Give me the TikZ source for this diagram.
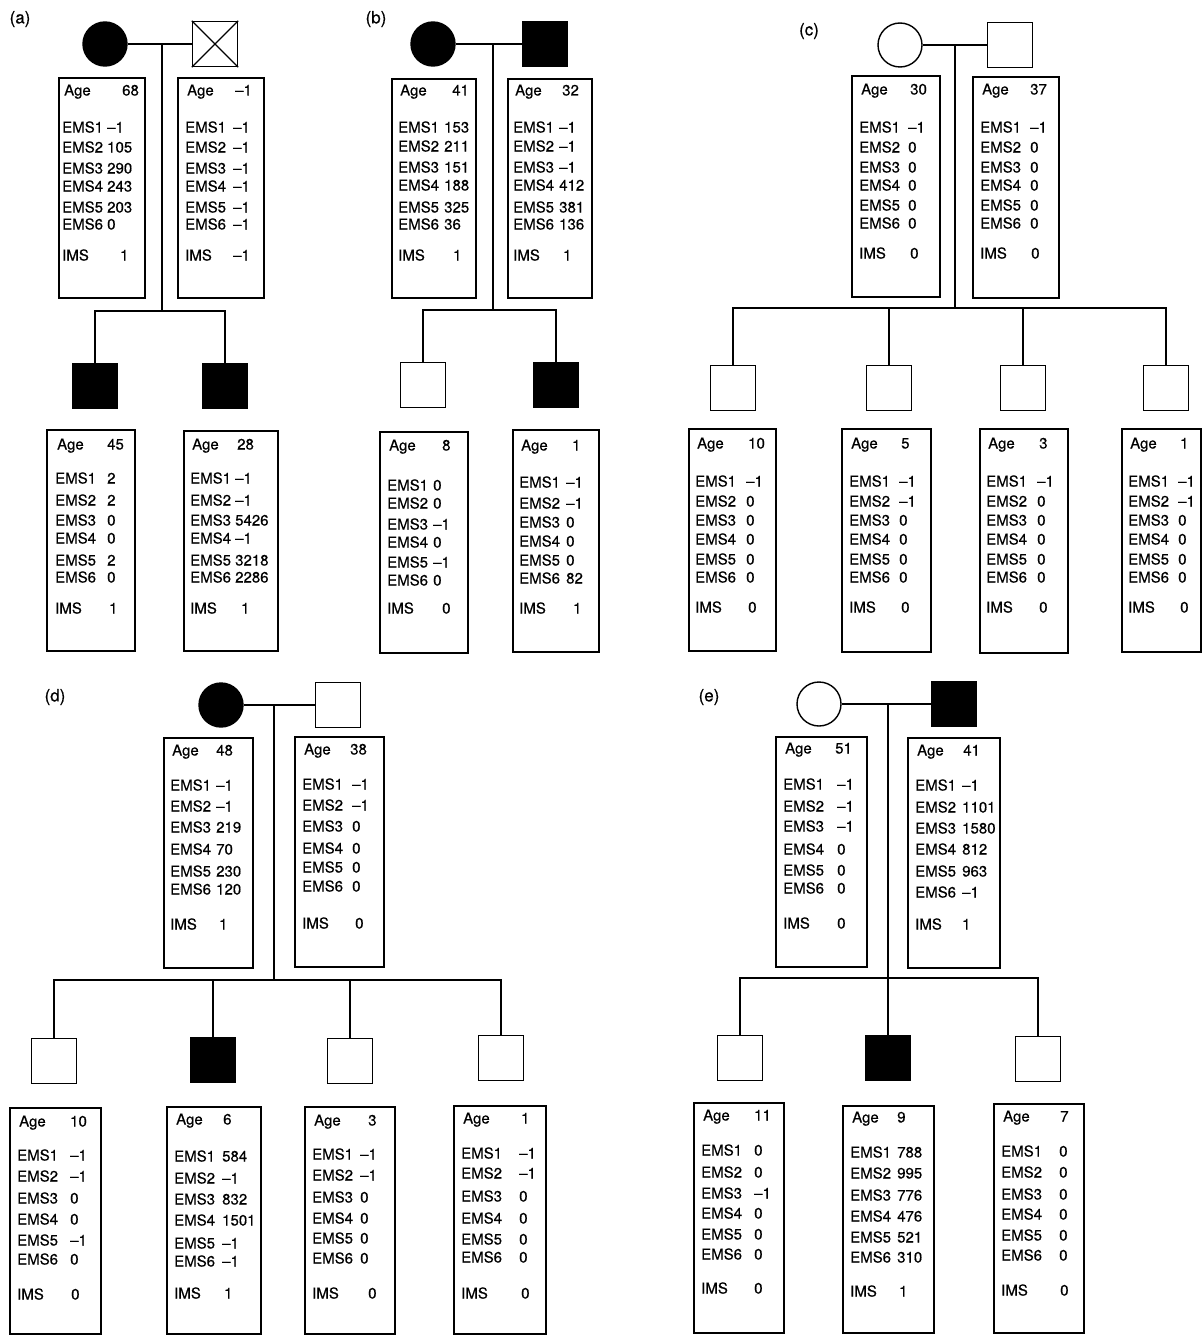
\documentclass[tikz,border=0pt]{standalone}
\usepackage{fontspec}
\setmainfont{TeX Gyre Heros}
\newfontfamily\datafont{TeX Gyre Heros}[FakeBold=0.5]
\tikzset{
  fem/.style={circle, draw, line width=1.4pt, minimum size=44pt, inner sep=0pt},
  mal/.style={rectangle, draw, line width=1.4pt, minimum size=45pt, inner sep=0pt},
  aff/.style={fill=black},
  databox/.style={rectangle, draw, line width=1.3pt, inner sep=0pt},
  txt/.style={anchor=base west, yshift=-5.5pt, inner sep=0pt, font=\datafont\fontsize{15}{17}\selectfont},
  lbl/.style={inner sep=0pt, font=\datafont\fontsize{17}{20}\selectfont},
  link/.style={line width=1.2pt},
}
\newcommand\dbox[5]{%
  \pgfmathsetmacro\dbcx{(#2+#4)/2}\pgfmathsetmacro\dbcy{(#3+#5)/2}%
  \pgfmathsetmacro\dbw{#4-#2}\pgfmathsetmacro\dbh{#5-#3}%
  \node[databox, minimum width=\dbw pt, minimum height=\dbh pt] (#1) at (\dbcx,\dbcy) {};}
\newcommand\info[7]{% name, lx, agey, agevx, age, vx, list y/val
  \node[txt] (#1-age) at (#2+2,#3) {Age};
  \node[txt] (#1-agev) at (#4,#3) {#5};
  \foreach \yy/\vv [count=\i] in {#7} {
    \node[txt] (#1-e\i) at (#2,\yy) {EMS\i};
    \node[txt] (#1-v\i) at (#6,\yy) {\vv};
  }}
\newcommand\imsrow[5]{% name, lx, y, vx, val
  \node[txt] (#1-ims) at (#2,#3) {IMS};
  \node[txt] (#1-imsv) at (#4,#3) {#5};}
\begin{document}
\begin{tikzpicture}[x=1pt,y=-1pt]
\useasboundingbox[fill=white] (0,0) rectangle (1202,1335);

% ---------------- (a)
\node[lbl] (a-lab) at (20,19) {(a)};
\node[fem, aff] (a-mo) at (105,44) {};
\node[mal] (a-fa) at (215,44) {};
\draw[link] (a-fa.north west) -- (a-fa.south east) (a-fa.north east) -- (a-fa.south west);
\coordinate (a-m) at (162,44);
\coordinate (a-s) at (162,311);
\draw[link] (a-mo) -- (a-fa);
\draw[link] (a-m) -- (a-s);
\node[mal, aff] (a-c1) at (95,386) {};
\node[mal, aff] (a-c2) at (225,386) {};
\draw[link] (a-c1.north) |- (a-s) -| (a-c2.north);

\dbox{A1}{59}{78}{145}{298}
\info{A1}{62}{90}{122}{68}{107}{127/–1,147/105,168/290,186/243,207/203,224/0}
\imsrow{A1}{62}{255}{120}{1}
\dbox{A2}{178}{78}{264}{298}
\info{A2}{185}{90}{235}{–1}{233}{127/–1,147/–1,168/–1,186/–1,207/–1,224/–1}
\imsrow{A2}{185}{255}{233}{–1}
\dbox{A3}{47}{430}{135}{651}
\info{A3}{55}{444}{107}{45}{107}{478/2,500/2,520/0,538/0,560/2,577/0}
\imsrow{A3}{55}{608}{109}{1}
\dbox{A4}{184}{431}{278}{651}
\info{A4}{190}{444}{237}{28}{235}{478/–1,500/–1,520/5426,538/–1,560/3218,577/2286}
\imsrow{A4}{190}{608}{241}{1}

% ---------------- (b)
\node[lbl] (b-lab) at (376,19) {(b)};
\node[fem, aff] (b-mo) at (433,44) {};
\node[mal, aff] (b-fa) at (545,44) {};
\coordinate (b-m) at (493,44);
\coordinate (b-s) at (493,310);
\draw[link] (b-mo) -- (b-fa);
\draw[link] (b-m) -- (b-s);
\node[mal] (b-c1) at (423,385) {};
\node[mal, aff] (b-c2) at (556,385) {};
\draw[link] (b-c1.north) |- (b-s) -| (b-c2.north);

\dbox{B1}{392}{79}{476}{298}
\info{B1}{398}{90}{452}{41}{444}{127/153,146/211,167/151,185/188,207/325,224/36}
\imsrow{B1}{398}{255}{453}{1}
\dbox{B2}{508}{79}{592}{298}
\info{B2}{513}{90}{562}{32}{559}{127/–1,146/–1,167/–1,185/412,207/381,224/136}
\imsrow{B2}{513}{255}{563}{1}
\dbox{B3}{380}{432}{468}{653}
\info{B3}{387}{445}{442}{8}{433}{485/0,503/0,524/–1,542/0,562/–1,580/0}
\imsrow{B3}{387}{608}{442}{0}
\dbox{B4}{513}{430}{599}{652}
\info{B4}{519}{445}{572}{1}{566}{482/–1,503/–1,522/0,541/0,560/0,578/82}
\imsrow{B4}{519}{608}{573}{1}

% ---------------- (c)
\node[lbl] (c-lab) at (809,31) {(c)};
\node[fem] (c-mo) at (900,45) {};
\node[mal] (c-fa) at (1010,45) {};
\coordinate (c-m) at (955,45);
\coordinate (c-s) at (955,308);
\draw[link] (c-mo) -- (c-fa);
\draw[link] (c-m) -- (c-s);
\node[mal] (c-c1) at (733,388) {};
\node[mal] (c-c2) at (889,388) {};
\node[mal] (c-c3) at (1023,388) {};
\node[mal] (c-c4) at (1166,388) {};
\draw[link] (c-c1.north) |- (c-s) -| (c-c4.north);
\draw[link] (c-c2.north) -- (c-c2.north |- c-s);
\draw[link] (c-c3.north) -- (c-c3.north |- c-s);

\dbox{C1}{852}{76}{940}{297}
\info{C1}{859}{89}{910}{30}{908}{127/–1,147/0,167/0,185/0,205/0,223/0}
\imsrow{C1}{859}{253}{910}{0}
\dbox{C2}{973}{77}{1059}{298}
\info{C2}{980}{89}{1030}{37}{1030}{127/–1,147/0,167/0,185/0,205/0,223/0}
\imsrow{C2}{980}{253}{1031}{0}
\dbox{C3}{689}{429}{776}{651}
\info{C3}{695}{443}{748}{10}{746}{481/–1,501/0,520/0,539/0,559/0,577/0}
\imsrow{C3}{695}{607}{748}{0}
\dbox{C4}{842}{429}{931}{652}
\info{C4}{849}{443}{901}{5}{899}{481/–1,501/–1,520/0,539/0,559/0,577/0}
\imsrow{C4}{849}{607}{901}{0}
\dbox{C5}{980}{429}{1068}{653}
\info{C5}{986}{443}{1039}{3}{1037}{481/–1,501/0,520/0,539/0,559/0,577/0}
\imsrow{C5}{986}{607}{1039}{0}
\dbox{C6}{1122}{429}{1201}{652}
\info{C6}{1128}{443}{1180}{1}{1178}{481/–1,501/–1,520/0,539/0,559/0,577/0}
\imsrow{C6}{1128}{607}{1180}{0}

% ---------------- (d)
\node[lbl] (d-lab) at (55,697) {(d)};
\node[fem, aff] (d-mo) at (221,705) {};
\node[mal] (d-fa) at (338,705) {};
\coordinate (d-m) at (274,705);
\coordinate (d-s) at (274,980);
\draw[link] (d-mo) -- (d-fa);
\draw[link] (d-m) -- (d-s);
\node[mal] (d-c1) at (54,1061) {};
\node[mal, aff] (d-c2) at (213,1060) {};
\node[mal] (d-c3) at (350,1061) {};
\node[mal] (d-c4) at (501,1058) {};
\draw[link] (d-c1.north) |- (d-s) -| (d-c4.north);
\draw[link] (d-c2.north) -- (d-c2.north |- d-s);
\draw[link] (d-c3.north) -- (d-c3.north |- d-s);

\dbox{D1}{164}{738}{253}{968}
\info{D1}{170}{750}{216}{48}{216}{785/–1,806/–1,827/219,849/70,871/230,889/120}
\imsrow{D1}{170}{924}{219}{1}
\dbox{D2}{295}{737}{384}{967}
\info{D2}{302}{749}{350}{38}{352}{784/–1,805/–1,826/0,848/0,867/0,886/0}
\imsrow{D2}{302}{923}{355}{0}
\dbox{D3}{10}{1108}{101}{1334}
\info{D3}{17}{1121}{70}{10}{70}{1155/–1,1176/–1,1198/0,1219/0,1240/–1,1259/0}
\imsrow{D3}{17}{1294}{71}{0}
\dbox{D4}{167}{1107}{261}{1334}
\info{D4}{174}{1119}{223}{6}{222}{1156/584,1178/–1,1199/832,1220/1501,1243/–1,1261/–1}
\imsrow{D4}{174}{1293}{224}{1}
\dbox{D5}{305}{1107}{395}{1334}
\info{D5}{312}{1120}{368}{3}{360}{1154/–1,1175/–1,1197/0,1218/0,1238/0,1258/0}
\imsrow{D5}{312}{1293}{368}{0}
\dbox{D6}{454}{1106}{546}{1334}
\info{D6}{461}{1118}{521}{1}{519}{1153/–1,1173/–1,1196/0,1218/0,1239/0,1257/0}
\imsrow{D6}{461}{1293}{521}{0}

% ---------------- (e)
\node[lbl] (e-lab) at (709,697) {(e)};
\node[fem] (e-mo) at (819,704) {};
\node[mal, aff] (e-fa) at (954,704) {};
\coordinate (e-m) at (888,704);
\coordinate (e-s) at (888,978);
\draw[link] (e-mo) -- (e-fa);
\draw[link] (e-m) -- (e-s);
\node[mal] (e-c1) at (740,1058) {};
\node[mal, aff] (e-c2) at (888,1058) {};
\node[mal] (e-c3) at (1038,1059) {};
\draw[link] (e-c1.north) |- (e-s) -| (e-c3.north);
\draw[link] (e-c2.north) -- (e-c2.north |- e-s);

\dbox{E1}{776}{737}{867}{967}
\info{E1}{783}{748}{835}{51}{837}{784/–1,806/–1,826/–1,849/0,870/0,888/0}
\imsrow{E1}{783}{923}{837}{0}
\dbox{E2}{908}{738}{1000}{968}
\info{E2}{915}{750}{963}{41}{962}{785/–1,807/1101,828/1580,849/812,871/963,892/–1}
\imsrow{E2}{915}{924}{962}{1}
\dbox{E3}{694}{1103}{784}{1333}
\info{E3}{701}{1115}{754}{11}{754}{1150/0,1172/0,1193/–1,1213/0,1234/0,1254/0}
\imsrow{E3}{701}{1288}{754}{0}
\dbox{E4}{843}{1106}{934}{1333}
\info{E4}{850}{1117}{897}{9}{897}{1152/788,1173/995,1195/776,1216/476,1237/521,1257/310}
\imsrow{E4}{850}{1291}{899}{1}
\dbox{E5}{994}{1104}{1084}{1333}
\info{E5}{1001}{1116}{1060}{7}{1059}{1151/0,1172/0,1194/0,1214/0,1235/0,1255/0}
\imsrow{E5}{1001}{1290}{1060}{0}
\end{tikzpicture}
\end{document}
